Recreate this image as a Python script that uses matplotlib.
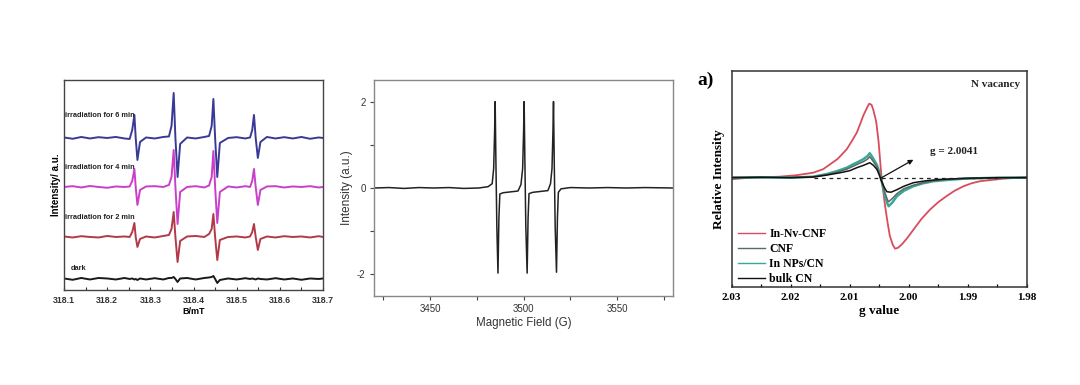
import matplotlib
matplotlib.use("Agg")
import matplotlib.pyplot as plt
from matplotlib.ticker import MultipleLocator

plt.rcParams["axes.unicode_minus"] = False

# ── Panel 1: DMPO spin-trap spectra (B/mT) ─────────────────────────────
P1_B = [318.100, 318.120, 318.140, 318.160, 318.180, 318.200, 318.220, 318.240,
        318.252, 318.258, 318.263, 318.266, 318.270, 318.276, 318.290,
        318.310, 318.330,
        318.343, 318.349, 318.354, 318.358, 318.363, 318.369, 318.385,
        318.405, 318.425,
        318.436, 318.442, 318.446, 318.450, 318.455, 318.461, 318.480,
        318.500, 318.520,
        318.531, 318.536, 318.540, 318.544, 318.549, 318.555, 318.570,
        318.590, 318.610, 318.630, 318.650, 318.670, 318.690, 318.700]

P1_6MIN = [0.05, -0.08, 0.10, -0.05, 0.08, 0.00, 0.10, -0.05,
           -0.10, 0.80, 2.30, 0.00, -2.20, -0.40, 0.05,
           -0.05, 0.10,
           0.15, 1.20, 4.50, 0.00, -3.90, -0.60, 0.05,
           -0.05, 0.10,
           0.20, 1.20, 3.90, 0.00, -3.90, -0.50, 0.00,
           0.08, -0.05,
           0.05, 0.80, 2.30, 0.00, -2.00, -0.40, 0.10,
           -0.05, 0.08, -0.05, 0.10, -0.08, 0.05, 0.00]

P1_4MIN = [0.00, 0.08, -0.05, 0.10, 0.00, -0.08, 0.05, 0.00,
           0.05, 0.60, 1.80, 0.00, -1.80, -0.30, 0.05,
           0.08, 0.00,
           0.20, 1.00, 3.70, 0.00, -3.70, -0.50, 0.00,
           0.08, -0.05,
           0.15, 1.00, 3.60, 0.00, -3.60, -0.50, 0.05,
           -0.05, 0.08,
           0.00, 0.60, 1.80, 0.00, -1.80, -0.30, 0.05,
           0.08, -0.05, 0.05, 0.00, 0.08, -0.05, 0.00]

P1_2MIN = [0.05, -0.05, 0.08, 0.00, -0.05, 0.10, 0.00, 0.05,
           0.00, 0.50, 1.40, 0.00, -1.00, -0.20, 0.05,
           -0.05, 0.10,
           0.20, 0.80, 2.50, 0.00, -2.50, -0.40, 0.05,
           0.10, 0.00,
           0.30, 0.80, 2.30, 0.00, -2.30, -0.30, 0.00,
           0.05, -0.05,
           0.05, 0.50, 1.30, 0.00, -1.30, -0.20, 0.05,
           -0.05, 0.08, 0.00, 0.05, -0.05, 0.08, 0.00]

P1_DARK = [0.05, -0.08, 0.10, -0.05, 0.10, 0.05, -0.05, 0.10,
           0.00, 0.05, -0.05, 0.00, -0.10, 0.05, -0.05,
           0.08, -0.05,
           0.10, 0.10, 0.20, 0.00, -0.30, 0.05, 0.10,
           -0.05, 0.10,
           0.15, 0.20, 0.30, 0.00, -0.40, -0.10, 0.05,
           -0.05, 0.08,
           0.00, 0.05, 0.00, -0.05, 0.05, 0.00, -0.05,
           0.08, -0.05, 0.05, -0.08, 0.05, 0.00, 0.05]

P1_SERIES = [P1_DARK, P1_2MIN, P1_4MIN, P1_6MIN]
P1_OFFSETS = [1.1, 5.3, 10.3, 15.2]
P1_LABELS = ["dark", "irradiation for 2 min", "irradiation for 4 min",
             "irradiation for 6 min"]
P1_LABEL_Y = [2.1, 7.2, 12.2, 17.4]
P1_COLORS = ["#1a1a1a", "#b23a48", "#c93fc9", "#3a3a96"]

# ── Panel 2: three-line spectrum (G) ───────────────────────────────────
P2_FIELD = [3420, 3428, 3436, 3444, 3452, 3460, 3468, 3476, 3481,
            3483.2, 3484.0, 3484.5, 3484.8, 3485.2, 3485.7, 3486.3, 3486.8,
            3487.3, 3489, 3493, 3497,
            3498.6, 3499.5, 3500.0, 3500.3, 3500.7, 3501.2, 3501.9, 3502.4,
            3502.9, 3505, 3509, 3513,
            3514.4, 3515.2, 3515.7, 3516.0, 3516.4, 3516.9, 3517.6, 3518.1,
            3518.6, 3520, 3525, 3535, 3545, 3555, 3565, 3580]
P2_INTENSITY = [0.00, 0.01, -0.01, 0.01, 0.00, 0.01, -0.01, 0.00, 0.03,
                0.10, 0.45, 1.30, 2.00, 0.60, -0.90, -1.97, -0.70,
                -0.14, -0.11, -0.09, -0.07,
                0.08, 0.45, 1.30, 2.00, 0.60, -0.90, -1.97, -0.70,
                -0.13, -0.10, -0.08, -0.06,
                0.10, 0.45, 1.30, 2.00, 0.60, -0.90, -1.95, -0.70,
                -0.10, -0.02, 0.01, 0.00, 0.01, 0.00, 0.01, 0.00]

# ── Panel 3: N vacancy signal (g value) ────────────────────────────────
P3_G_RED = [2.0300, 2.0270, 2.0246, 2.0220, 2.0190, 2.0162, 2.0145, 2.0133,
            2.0120, 2.0105, 2.0097, 2.0088, 2.0082, 2.0077, 2.0071, 2.0067,
            2.0063, 2.0060, 2.0055, 2.0051, 2.0046, 2.0040, 2.0036, 2.0032,
            2.0027, 2.0023, 2.0018, 2.0012, 2.0002, 1.9992, 1.9978, 1.9964,
            1.9950, 1.9936, 1.9922, 1.9907, 1.9893, 1.9879, 1.9840, 1.9800]
P3_RED = [-0.15, 0.00, 0.05, 0.10, 0.25, 0.50, 0.85, 1.35,
          1.90, 2.85, 3.60, 4.50, 5.40, 6.20, 6.95, 7.40,
          7.30, 6.80, 5.60, 3.60, 0.00, -2.80, -4.40, -5.80,
          -6.70, -7.10, -7.00, -6.70, -6.00, -5.20, -4.10, -3.20,
          -2.45, -1.85, -1.30, -0.85, -0.55, -0.35, -0.10, 0.05]

P3_G_MID = [2.0300, 2.0250, 2.0200, 2.0162, 2.0140, 2.0122, 2.0105, 2.0094,
            2.0085, 2.0077, 2.0070, 2.0066, 2.0062, 2.0058, 2.0054, 2.0050,
            2.0046, 2.0041, 2.0036, 2.0034, 2.0028, 2.0020, 2.0008, 1.9992,
            1.9975, 1.9958, 1.9930, 1.9907, 1.9850, 1.9800]
P3_INNP = [0.00, 0.05, 0.00, 0.10, 0.35, 0.65, 1.00, 1.35,
           1.60, 1.85, 2.15, 2.45, 2.10, 1.70, 1.30, 0.60,
           -0.30, -1.60, -2.60, -2.85, -2.50, -1.85, -1.30, -0.85,
           -0.55, -0.35, -0.20, -0.10, 0.00, 0.00]
P3_CNF = [0.05, 0.00, 0.05, 0.10, 0.30, 0.55, 0.85, 1.15,
          1.40, 1.60, 1.85, 2.10, 1.80, 1.45, 1.10, 0.50,
          -0.30, -1.40, -2.20, -2.40, -2.10, -1.60, -1.10, -0.75,
          -0.50, -0.30, -0.15, -0.10, 0.00, 0.05]

P3_G_BULK = [2.0300, 2.0250, 2.0200, 2.0162, 2.0140, 2.0116, 2.0100, 2.0088,
             2.0076, 2.0066, 2.0060, 2.0054, 2.0050, 2.0046, 2.0041, 2.0037,
             2.0030, 2.0020, 2.0008, 1.9992, 1.9970, 1.9947, 1.9900, 1.9850,
             1.9800]
P3_BULK = [0.00, 0.05, 0.00, 0.07, 0.25, 0.50, 0.70, 1.00,
           1.25, 1.50, 1.25, 0.85, 0.30, -0.35, -1.00, -1.40,
           -1.45, -1.20, -0.85, -0.50, -0.30, -0.17, -0.05, 0.00,
           0.00]

G_CENTER = 2.0046
G_TEXT = "g = 2.0041"

# ── Figure ─────────────────────────────────────────────────────────────
fig = plt.figure(figsize=(10.8, 3.85), dpi=100)
fig.patch.set_facecolor("white")

SANS = "Liberation Sans"
SERIF = "Liberation Serif"

# panel 1
ax1 = fig.add_axes([0.0593, 0.2468, 0.2398, 0.5455])
for ys, off, col in zip(P1_SERIES, P1_OFFSETS, P1_COLORS):
    ax1.plot(P1_B, [v + off for v in ys], color=col, lw=1.4)
for lab, ly, off in zip(P1_LABELS, P1_LABEL_Y, P1_OFFSETS):
    lx = 318.116 if lab == "dark" else 318.102
    ax1.text(lx, ly, lab, fontsize=5.3, fontweight="bold", family=SANS,
             va="center", ha="left", color="#222")
ax1.set_xlim(318.1, 318.7)
ax1.set_ylim(0, 21)
ax1.set_yticks([])
ax1.xaxis.set_major_locator(MultipleLocator(0.1))
ax1.xaxis.set_minor_locator(MultipleLocator(0.05))
ax1.tick_params(axis="x", which="both", direction="in", length=2.5,
                width=0.8, pad=4, labelsize=6.3, colors="#333")
for t in ax1.get_xticklabels():
    t.set_fontweight("bold")
    t.set_family(SANS)
ax1.set_xlabel("B/mT", fontsize=6.5, fontweight="bold", family=SANS,
               labelpad=1.5)
ax1.set_ylabel("Intensity/ a.u.", fontsize=7, fontweight="bold",
               family=SANS, labelpad=2)
for s in ax1.spines.values():
    s.set_color("#444")
    s.set_linewidth(1.0)

# panel 2
ax2 = fig.add_axes([0.3463, 0.2312, 0.277, 0.561])
ax2.plot(P2_FIELD, P2_INTENSITY, color="#222", lw=1.1)
ax2.set_xlim(3420, 3580)
ax2.set_ylim(-2.5, 2.5)
ax2.set_xticks([3450, 3500, 3550])
ax2.set_yticks([-2, 0, 2])
ax2.xaxis.set_minor_locator(MultipleLocator(25))
ax2.yaxis.set_minor_locator(MultipleLocator(1))
ax2.tick_params(which="both", direction="out", length=3, width=0.8,
                pad=3, labelsize=7, colors="#444",
                labelcolor="#333")
for t in ax2.get_xticklabels() + ax2.get_yticklabels():
    t.set_family(SANS)
ax2.set_xlabel("Magnetic Field (G)", fontsize=8.3, family=SANS,
               color="#333", labelpad=2)
ax2.set_ylabel("Intensity (a.u.)", fontsize=8.5, family=SANS,
               color="#333", labelpad=3)
for s in ax2.spines.values():
    s.set_color("#888")
    s.set_linewidth(1.0)

# panel 3
ax3 = fig.add_axes([0.6775, 0.2553, 0.2731, 0.561])
ax3.plot(P3_G_RED, P3_RED, color="#d84d5c", lw=1.3, label="In-Nv-CNF")
ax3.plot(P3_G_MID, P3_INNP, color="#3aa898", lw=1.8, label="In NPs/CN")
ax3.plot(P3_G_MID, P3_CNF, color="#5a6a66", lw=1.1, label="CNF")
ax3.plot(P3_G_BULK, P3_BULK, color="#111", lw=1.1, label="bulk CN")
ax3.plot([2.016, 1.985], [0, 0], color="#222", lw=0.9, ls=(0, (3, 3)))
ax3.annotate("", xy=(1.9992, 1.8), xytext=(G_CENTER, 0.0),
             arrowprops=dict(arrowstyle="-|>", color="#111", lw=0.9,
                             mutation_scale=7, shrinkA=0, shrinkB=0))
ax3.text(1.9964, 2.63, G_TEXT, fontsize=8, fontweight="bold",
         family=SERIF, va="center", ha="left", color="#222")
ax3.text(0.977, 0.938, "N vacancy", transform=ax3.transAxes, fontsize=8,
         fontweight="bold", family=SERIF, ha="right", va="center",
         color="#222")
ax3.set_xlim(2.03, 1.98)
ax3.set_ylim(-10.9, 10.7)
ax3.set_yticks([])
ax3.set_xticks([2.03, 2.02, 2.01, 2.00, 1.99, 1.98])
ax3.set_xticklabels(["2.03", "2.02", "2.01", "2.00", "1.99", "1.98"])
ax3.xaxis.set_minor_locator(MultipleLocator(0.005))
ax3.tick_params(axis="x", which="both", direction="in", length=2.5,
                width=0.9, pad=4.5, labelsize=8)
for t in ax3.get_xticklabels():
    t.set_fontweight("bold")
    t.set_family(SERIF)
ax3.set_xlabel("g value", fontsize=9.5, fontweight="bold", family=SERIF,
               labelpad=2)
ax3.set_ylabel("Relative Intensity", fontsize=9.5, fontweight="bold",
               family=SERIF, labelpad=5)
for s in ax3.spines.values():
    s.set_color("#333")
    s.set_linewidth(1.1)

h, l = ax3.get_legend_handles_labels()
order = [l.index(n) for n in ["In-Nv-CNF", "CNF", "In NPs/CN", "bulk CN"]]
leg = ax3.legend([h[i] for i in order], [l[i] for i in order],
                 loc="lower left", bbox_to_anchor=(0.014, 0.0),
                 frameon=False, handlelength=2.3, handletextpad=0.4,
                 labelspacing=0.25, borderpad=0.1, borderaxespad=0.05,
                 prop={"family": SERIF, "weight": "bold", "size": 8.5})
for lh in leg.get_lines():
    lh.set_linewidth(1.0)

fig.text(697 / 1080, 1 - 80 / 385, "a)", fontsize=14, fontweight="bold",
         family=SERIF, ha="left", va="center")

fig.savefig("out.png", dpi=100, facecolor="white")
